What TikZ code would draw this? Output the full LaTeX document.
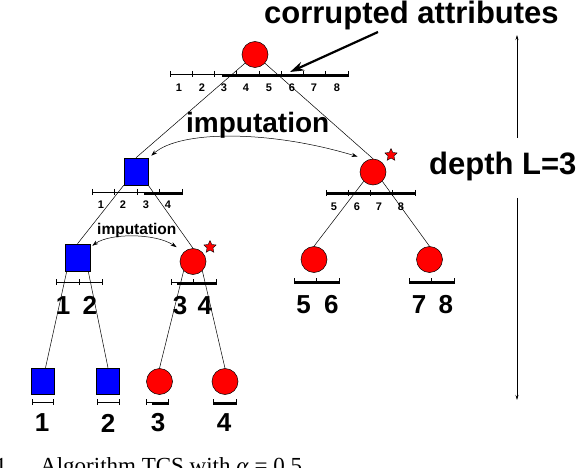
\documentclass[tikz,border=0pt]{standalone}
\usepackage{fontspec}
\setmainfont{Liberation Sans}
\newfontfamily\capfont{Liberation Serif}
\usetikzlibrary{arrows.meta,shapes.geometric,calc}
\newcommand\myruler[4]{%
  \draw[thinbar] (#1,#3) -- (#2,#3);
  \foreach \k in {0,...,#4} { \draw[thinbar] ({#1+(#2-#1)*\k/#4},#3-3) -- ++(0,6); }
}
\begin{document}
\begin{tikzpicture}[x=1pt,y=-1pt,
 rc/.style={circle,draw=black,fill=red,line width=0.5pt,minimum size=26pt,inner sep=0pt},
 bs/.style={rectangle,draw=black,fill=blue,line width=0.5pt,minimum width=24pt,minimum height=27pt,inner sep=0pt},
 edge/.style={draw=black,line width=0.5pt},
 thinbar/.style={line width=0.7pt},
 thickbar/.style={line width=3pt},
 sm/.style={font=\fontsize{11}{12}\selectfont\bfseries, inner sep=0pt},
 big/.style={font=\fontsize{26}{28}\selectfont\bfseries, inner sep=0pt},
 huge/.style={font=\fontsize{31}{33}\selectfont\bfseries, inner sep=0pt},
 starmark/.style={star,star points=5,star point ratio=2.1,draw=black,fill=red,line width=0.4pt,minimum size=13pt,inner sep=0pt},
 imp/.style={{Stealth[length=6pt,width=4pt]}-{Stealth[length=6pt,width=4pt]}, line width=0.5pt},
 captxt/.style={font=\capfont\fontsize{23}{25}\selectfont, inner sep=0pt}
]
\useasboundingbox (0,0) rectangle (576,468);

% nodes
\node[rc] (root) at (255,54.5) {};
\node[bs] (s1) at (136,171.5) {};
\node[rc] (c1) at (373,172) {};
\node[bs,minimum width=25pt] (s2) at (77.5,257.5) {};
\node[rc] (c2) at (193,261.5) {};
\node[rc] (c56) at (314,259.5) {};
\node[rc] (c78) at (429.5,259.5) {};
\node[bs,minimum width=23pt,minimum height=26pt] (s3a) at (42.5,381) {};
\node[bs,minimum width=23pt,minimum height=26pt] (s3b) at (108,381) {};
\node[rc] (c3a) at (159.5,381.5) {};
\node[rc] (c3b) at (225,381.5) {};
\node[starmark] (st1) at (391,155) {};
\node[starmark] (st2) at (210,247) {};

% tree edges
\draw[edge] (root) -- (s1.north);
\draw[edge] (root) -- (c1.north);
\draw[edge] (s1.south west) -- (s2.north);
\draw[edge] (s1.south east) -- (c2.north);
\draw[edge] (c1.south west) -- (c56.north);
\draw[edge] (c1.south east) -- (c78.north);
\draw[edge] ($(s2.south west)+(2,0)$) -- ($(s3a.north)+(3,0)$);
\draw[edge] ($(s2.south east)+(-2,0)$) -- (s3b.north);
\draw[edge] (c2.south west) -- (c3a.north);
\draw[edge] (c2.south east) -- (c3b.north);

% attribute bars
\myruler{170}{348}{74}{8}
\draw[thickbar] (222,76) -- (348,76);
\myruler{92}{182}{192}{4}
\draw[thickbar] (144,194) -- (182,194);
\myruler{326}{415}{193}{4}
\draw[thickbar] (326,194) -- (415,194);
\myruler{56}{102}{282}{2}
\myruler{171}{216}{282}{2}
\draw[thickbar] (177,283) -- (216,283);
\myruler{294}{339}{281}{2}
\draw[thickbar] (294,282) -- (339,282);
\myruler{409}{454}{281}{2}
\draw[thickbar] (409,282) -- (454,282);
\myruler{32}{53}{402}{1}
\myruler{97}{119}{402}{1}
\myruler{146}{168}{402}{1}
\draw[thickbar] (152,403) -- (168,403);
\myruler{213}{236}{402}{1}
\draw[thickbar] (213,403) -- (236,403);

% small labels
\foreach \i/\xx in {1/179,2/202,3/224,4/246,5/269,6/292,7/314,8/337}
  \node[sm] (ra\i) at (\xx,88) {\i};
\foreach \i/\xx in {1/101,2/123,3/146,4/168}
  \node[sm] (rb\i) at (\xx,205) {\i};
\foreach \i/\xx in {5/334,6/357,7/379,8/401}
  \node[sm] (rc\i) at (\xx,207) {\i};

% big labels
\node[big] (l12) at (76.5,305.5) {1 \hspace{5pt}2};
\node[big] (l34) at (192.5,305.5) {3 \hspace{3pt}4};
\node[big] (l56) at (317.5,304.5) {5 \hspace{6pt}6};
\node[big] (l78) at (432.5,304.5) {7 \hspace{5pt}8};
\node[big] (l1) at (42,423) {1};
\node[big] (l2) at (108,423) {2};
\node[big] (l3) at (158,423) {3};
\node[big] (l4) at (224,423) {4};

% titles
\node[huge,anchor=base west] (corr) at (264,24) {corrupted attributes};
\node[huge,anchor=base west] (depth) at (429,175) {depth L=3};
\node[font=\fontsize{28}{30}\selectfont\bfseries,inner sep=0pt,anchor=base west] (imp1) at (186,133) {imputation};
\node[font=\fontsize{15.5}{17}\selectfont\bfseries,inner sep=0pt,anchor=base west] (imp2) at (97,234) {imputation};

% corrupted arrow
\coordinate (ca0) at (378,32);
\coordinate (ca1) at (290,72);
\draw[line width=2.2pt,-{Stealth[length=14pt,width=9pt]}] (ca0) -- (ca1);

% imputation arrows
\draw[imp] ($(s1.north east)+(3,-2)$) .. controls (180,130) and (270,130) .. ($(c1.north west)+(-6,-6)$);
\draw[imp] ($(s2.north east)+(2,2)$) .. controls (110,233) and (155,233) .. ($(c2.north west)+(-7,-5)$);

% depth arrows
\coordinate (dt0) at (517,138);
\coordinate (dt) at (517,35);
\coordinate (db0) at (517,198);
\coordinate (db) at (517,400);
\draw[line width=0.6pt,-{Stealth[length=5pt,width=3pt]}] (dt0) -- (dt);
\draw[line width=0.6pt,-{Stealth[length=5pt,width=3pt]}] (db0) -- (db);

% caption (cut off)
\node[captxt,anchor=base east] (fig) at (7,473) {1};
\node[captxt,anchor=base west] (captext) at (40,473) {Algorithm TCS with \textit{α} = 0.5};
\end{tikzpicture}
\end{document}
